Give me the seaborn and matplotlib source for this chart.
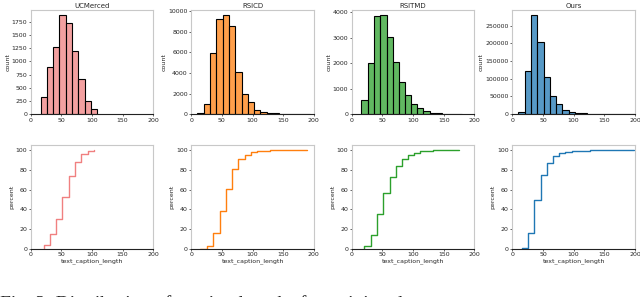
import numpy as np
import pandas as pd
import matplotlib
matplotlib.use("Agg")
import matplotlib.pyplot as plt
import seaborn as sns

# bin edges / counts (caption length in words)
datasets = ["UCMerced", "RSICD", "RSITMD", "Ours"]
colors = ["lightcoral", "tab:orange", "tab:green", "tab:blue"]

ucm_edges = [16, 26, 36, 46, 57, 67, 77, 88, 98, 108]
ucm_counts = [334, 900, 1266, 1877, 1738, 1196, 674, 252, 88]

rsicd_edges = [10, 20, 31, 41, 52, 62, 72, 82, 93, 103, 113, 124, 134, 144, 154, 165, 175, 185, 193]
rsicd_counts = [100, 970, 5900, 9290, 9610, 8550, 4100, 1940, 1190, 420, 190, 100, 80, 30, 15, 8, 5, 3]

rsitmd_edges = [15, 26, 36, 46, 57, 67, 77, 87, 97, 107, 117, 127, 137, 147, 158, 169, 180]
rsitmd_counts = [545, 2000, 3830, 3870, 3010, 2040, 1260, 740, 390, 220, 117, 50, 40, 10, 5, 3]

ours_edges = [10, 20, 30, 41, 51, 61, 71, 81, 92, 102, 112, 122, 133, 143, 153, 163, 173, 183, 193, 203]
ours_counts = [6600, 122000, 279000, 204000, 106000, 51500, 28000, 10300, 6500, 2800,
               2000, 1500, 1000, 300, 150, 80, 40, 20, 10]

all_edges = [ucm_edges, rsicd_edges, rsitmd_edges, ours_edges]
all_counts = [ucm_counts, rsicd_counts, rsitmd_counts, ours_counts]

sns.set_style("white")
plt.rcParams["font.family"] = ["DejaVu Sans"]

fig, axes = plt.subplots(2, 4, figsize=(6.4, 2.97), dpi=100)
fig.subplots_adjust(left=0.048, right=0.992, top=0.965, bottom=0.162,
                    wspace=0.31, hspace=0.3)

for i, name in enumerate(datasets):
    edges = [float(e) for e in all_edges[i]]
    centers = [(a + b) / 2 for a, b in zip(edges[:-1], edges[1:])]
    df = pd.DataFrame({"text_caption_length": centers, "w": all_counts[i]})

    ax = axes[0, i]
    sns.histplot(data=df, x="text_caption_length", weights="w", bins=edges,
                 color=colors[i], edgecolor="black", linewidth=0.8, alpha=0.75, ax=ax)
    ax.set_title(name, fontsize=5, pad=1.5)
    ax.set_xlabel("")
    ax.set_ylabel("count", fontsize=4.5, labelpad=1)
    ax.set_xlim(0, 200)
    ax.set_xticks([0, 50, 100, 150, 200])

    ax2 = axes[1, i]
    sns.ecdfplot(data=df, x="text_caption_length", weights="w", stat="percent",
                 color=colors[i], linewidth=1.0, ax=ax2)
    ax2.set_xlim(0, 200)
    ax2.set_xticks([0, 50, 100, 150, 200])
    ax2.set_yticks([0, 20, 40, 60, 80, 100])
    ax2.set_xlabel("text_caption_length", fontsize=4.5, labelpad=1)
    ax2.set_ylabel("percent", fontsize=4.5, labelpad=1)

for ax in axes.flat:
    ax.tick_params(labelsize=4.5, length=1.5, width=0.5, pad=1,
                   left=True, bottom=True)
    for s in ["top", "right", "left"]:
        ax.spines[s].set_color("#c8c8c8")
        ax.spines[s].set_linewidth(0.8)
    ax.spines["bottom"].set_color("#222222")
    ax.spines["bottom"].set_linewidth(0.8)

# paper caption, cut off at the bottom edge as in the source image
fig.text(0.0, 0.007, "Fig. 3: Distribution of caption lengths for training datasets.",
         fontsize=14, family="Liberation Serif", va="top", ha="left")

fig.savefig("out.png", dpi=100)
